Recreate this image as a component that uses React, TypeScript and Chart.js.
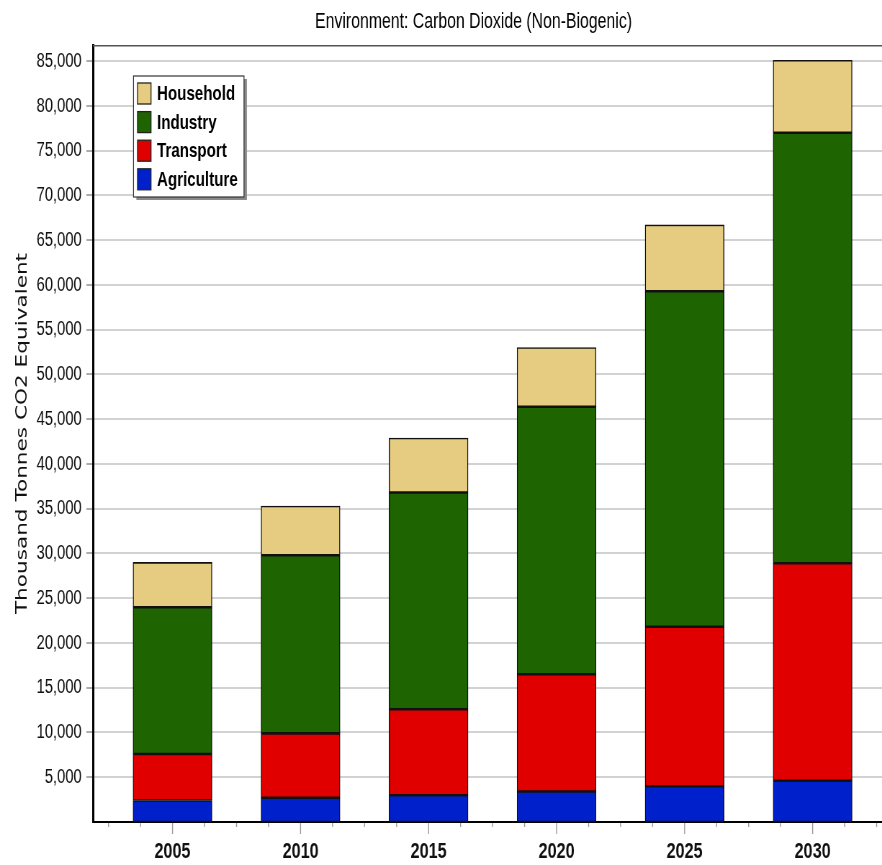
import React, { useEffect, useRef } from "react";
import { Chart, registerables } from "chart.js";

Chart.register(...registerables);

// ---------- data ----------
const years = [2005, 2010, 2015, 2020, 2025, 2030];
const agriculture = [2400, 2700, 3000, 3400, 4000, 4600];
const transport = [5200, 7200, 9600, 13100, 17800, 24300];
const industry = [16400, 19900, 24200, 29900, 37500, 48100];
const household = [5000, 5500, 6100, 6600, 7400, 8100];

const seriesNames = ["Agriculture", "Transport", "Industry", "Household"];
const seriesColors = ["#0020CC", "#E00000", "#1E6400", "#E6CC80"];

const yTickValues = [
  5000, 10000, 15000, 20000, 25000, 30000, 35000, 40000, 45000, 50000, 55000,
  60000, 65000, 70000, 75000, 80000, 85000,
];
const xTickMarks = [
  2002.5, 2003.75, 2005, 2006.25, 2007.5, 2008.75, 2010, 2011.25, 2012.5,
  2013.75, 2015, 2016.25, 2017.5, 2018.75, 2020, 2021.25, 2022.5, 2023.75,
  2025, 2026.25, 2027.5, 2028.75, 2030, 2031.25, 2032.5,
];

const titleText = "Environment: Carbon Dioxide (Non-Biogenic)";
const yTitleText = "Thousand Tonnes CO2 Equivalent";

// ---------- layout ----------
const SX = 0.72; // horizontal compression of the rendering
const DISPLAY_W = 882;
const DISPLAY_H = 865;
const W = Math.round(DISPLAY_W / SX);
const H = DISPLAY_H;

const SANS = '"Liberation Sans", Arial, sans-serif';

const decorPlugin = {
  id: "decor",
  afterDraw(chart: any) {
    const { ctx, chartArea: a, scales } = chart;
    ctx.save();

    // top frame line
    ctx.strokeStyle = "#555";
    ctx.lineWidth = 1.5;
    ctx.beginPath();
    ctx.moveTo(a.left, a.top + 0.75);
    ctx.lineTo(W, a.top + 0.75);
    ctx.stroke();

    // x tick marks (minor + major)
    const xs = scales.x;
    ctx.strokeStyle = "#999";
    ctx.lineWidth = 1.4;
    for (const v of xTickMarks) {
      const px = xs.getPixelForValue(v);
      const major = years.includes(v);
      ctx.beginPath();
      ctx.moveTo(px, a.bottom + 1);
      ctx.lineTo(px, a.bottom + (major ? 12 : 5));
      ctx.stroke();
    }

    // title
    ctx.fillStyle = "#000";
    ctx.font = `22px ${SANS}`;
    ctx.textAlign = "center";
    ctx.textBaseline = "middle";
    ctx.fillText(titleText, 473.5 / SX, 22);

    // legend
    const lx = 133.5 / SX;
    const ly = 76;
    const lw = (244 - 133.5) / SX;
    const lh = 121;
    ctx.fillStyle = "#8a8a8a";
    ctx.fillRect(lx + 4, ly + 3, lw, lh);
    ctx.fillStyle = "#fff";
    ctx.fillRect(lx, ly, lw, lh);
    ctx.strokeStyle = "#333";
    ctx.lineWidth = 1.2;
    ctx.strokeRect(lx, ly, lw, lh);

    const order = [3, 2, 1, 0];
    ctx.font = `bold 21px ${SANS}`;
    ctx.textAlign = "left";
    ctx.textBaseline = "middle";
    order.forEach((si, i) => {
      const cy = 93.5 + i * 28.6;
      const sx = 137.5 / SX;
      const sw = 13.5 / SX;
      ctx.fillStyle = seriesColors[si];
      ctx.fillRect(sx, cy - 10.5, sw, 21);
      ctx.strokeStyle = "#222";
      ctx.lineWidth = 1.3;
      ctx.strokeRect(sx, cy - 10.5, sw, 21);
      ctx.fillStyle = "#000";
      ctx.fillText(chart.data.datasets[si].label, 157 / SX, cy + 1);
    });

    ctx.restore();
  },
};

export default function App() {
  const ref = useRef<HTMLCanvasElement | null>(null);

  useEffect(() => {
    document.body.style.margin = "0";
    const canvas = ref.current;
    if (!canvas) return;
    const series = [agriculture, transport, industry, household];
    const chart = new Chart(canvas, {
      type: "bar",
      data: {
        datasets: series.map((vals, si) => ({
          label: seriesNames[si],
          data: years.map((yr, i) => ({ x: yr, y: vals[i] })),
          backgroundColor: seriesColors[si],
          borderColor: "#111",
          borderWidth: { top: 1.6, bottom: 1.6, left: 1.4, right: 1.4 },
          borderSkipped: false,
          barThickness: 79 / SX,
        })),
      },
      options: {
        responsive: false,
        animation: false,
        devicePixelRatio: 1,
        events: [],
        layout: { padding: { top: 45, left: 0, right: 0, bottom: 0 } },
        plugins: {
          legend: { display: false },
          title: { display: false },
          tooltip: { enabled: false },
        },
        scales: {
          x: {
            type: "linear",
            stacked: true,
            offset: false,
            min: 2001.89,
            max: 2032.71,
            afterBuildTicks: (scale: any) => {
              scale.ticks = xTickMarks.map((v) => ({ value: v }));
            },
            afterFit: (scale: any) => {
              scale.height = H - 822;
              scale.paddingLeft = 0;
              scale.paddingRight = 0;
            },
            grid: { display: false, drawTicks: false, offset: false },
            border: { display: true, color: "#000", width: 2 },
            ticks: {
              autoSkip: false,
              maxRotation: 0,
              padding: 16,
              color: "#111",
              font: { family: SANS, size: 22.5, weight: "bold" },
              callback: (v: any) => (years.includes(Number(v)) ? String(v) : ""),
            },
          },
          y: {
            type: "linear",
            stacked: true,
            min: 0,
            max: 86800,
            afterBuildTicks: (scale: any) => {
              scale.ticks = yTickValues.map((v) => ({ value: v }));
            },
            afterFit: (scale: any) => {
              scale.width = 129;
              scale.paddingTop = 0;
              scale.paddingBottom = 0;
            },
            grid: {
              color: "#d2d2d2",
              lineWidth: 2,
              drawTicks: true,
              tickLength: 9,
              tickColor: "#888",
              tickWidth: 1.4,
            },
            border: { display: true, color: "#000", width: 3 },
            ticks: {
              padding: 6.5,
              color: "#111",
              font: { family: SANS, size: 20.5 },
              callback: (v: any) => Number(v).toLocaleString("en-US"),
            },
            title: {
              display: true,
              text: yTitleText,
              color: "#111",
              font: { family: '"DejaVu Sans", Verdana, sans-serif', size: 21.6 },
              padding: { top: 18, bottom: 0 },
            },
          },
        },
      },
      plugins: [decorPlugin],
    } as any);
    return () => chart.destroy();
  }, []);

  return (
    <div
      style={{
        position: "absolute",
        left: 0,
        top: 0,
        width: DISPLAY_W,
        height: DISPLAY_H,
        background: "#fff",
      }}
    >
      <canvas
        ref={ref}
        width={W}
        height={H}
        style={{ width: DISPLAY_W + "px", height: DISPLAY_H + "px", display: "block" }}
      />
    </div>
  );
}
